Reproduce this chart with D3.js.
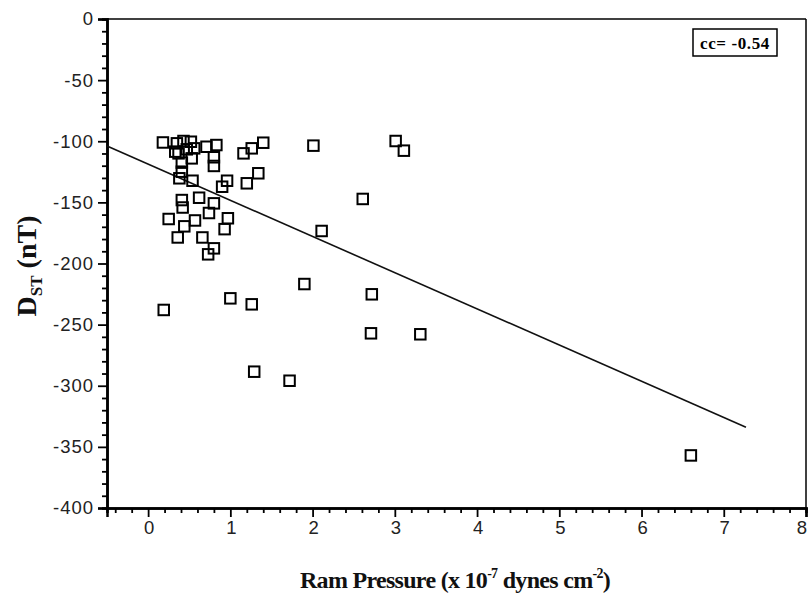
<!DOCTYPE html>
<html>
<head>
<meta charset="utf-8">
<script src="https://cdn.jsdelivr.net/npm/d3@7"></script>
<style>
  html, body { margin: 0; padding: 0; background: #fff; }
  svg { display: block; }
</style>
</head>
<body>
<svg id="chart" width="810" height="595"></svg>
<script>
// Data
const ramPressure = [
  0.18, 0.35, 0.43, 0.52, 0.33, 0.37, 0.47, 0.56, 0.71, 0.83,
  0.53, 0.41, 0.80, 0.80, 0.41, 0.38, 0.54, 0.96, 0.90, 1.16,
  1.26, 1.40, 1.34, 1.20, 0.41, 0.42, 0.62, 0.80, 0.74, 0.25,
  0.57, 0.44, 0.97, 0.93, 0.36, 0.66, 0.80, 0.73, 2.11, 2.61,
  2.01, 3.01, 3.11, 0.19, 1.00, 1.26, 1.90, 2.72, 2.71, 3.31,
  1.29, 1.72, 6.60
];
const dst = [
  -101.0, -101.7, -99.8, -100.4, -108.5, -109.9, -106.6, -105.8, -104.5, -103.1,
  -114.0, -117.5, -113.1, -120.2, -124.9, -130.3, -132.3, -132.3, -137.2, -109.9,
  -105.8, -101.2, -126.2, -134.4, -148.1, -154.2, -146.2, -150.8, -158.7, -163.6,
  -164.8, -169.6, -163.0, -171.9, -178.7, -178.7, -187.6, -192.5, -173.4, -147.2,
  -103.6, -99.8, -107.7, -238.0, -228.5, -233.4, -216.8, -225.2, -257.1, -257.9,
  -288.5, -295.9, -357.0
];
const fitLine = { intercept: -118.7, slope: -29.6, xStart: -0.5, xEnd: 7.27 };
const xTicks = [0, 1, 2, 3, 4, 5, 6, 7, 8];
const yTicks = [0, -50, -100, -150, -200, -250, -300, -350, -400];
const ccLabel = "cc= -0.54";

(function () {
const svg = d3.select("#chart");
const pL = 107, pR = 806, pT = 19, pB = 508;

const x = d3.scaleLinear().domain([-0.5, 8]).range([pL, pR]);
const y = d3.scaleLinear().domain([-400, 0]).range([pB, pT]);

// Frame (top and right)
svg.append("line").attr("x1", pL).attr("x2", pR).attr("y1", pT).attr("y2", pT)
  .attr("stroke", "#000").attr("stroke-width", 1.5);
svg.append("line").attr("x1", pR).attr("x2", pR).attr("y1", pT).attr("y2", pB)
  .attr("stroke", "#000").attr("stroke-width", 1.5);

// Minor ticks
const xMinor = d3.range(-0.4, 8.0001, 0.2).filter(v => Math.abs(v - Math.round(v)) > 1e-6);
const yMinor = d3.range(-390, 0, 10).filter(v => v % 50 !== 0);
const fmt = d => String(d);

svg.append("g").attr("transform", `translate(0,${pB})`)
  .call(d3.axisBottom(x).tickValues(xMinor).tickSize(5).tickFormat(""));
const xMajor = svg.append("g").attr("transform", `translate(0,${pB})`)
  .call(d3.axisBottom(x).tickValues(xTicks).tickSize(9).tickPadding(4).tickFormat(fmt));

svg.append("g").attr("transform", `translate(${pL},0)`)
  .call(d3.axisLeft(y).tickValues(yMinor).tickSize(5).tickFormat(""));
const yMajor = svg.append("g").attr("transform", `translate(${pL},0)`)
  .call(d3.axisLeft(y).tickValues(yTicks).tickSize(9).tickPadding(4).tickFormat(fmt));

svg.selectAll(".domain").attr("stroke", "#000").attr("stroke-width", 2.5);
svg.selectAll(".tick line").attr("stroke", "#000").attr("stroke-width", 1.8);
svg.selectAll("g").attr("font-size", null).attr("font-family", null);
svg.selectAll(".tick text")
  .style("font-family", "'Liberation Sans', Arial, sans-serif")
  .style("font-size", "18.5px")
  .attr("letter-spacing", "1")
  .attr("fill", "#222");
xMajor.selectAll(".tick text").attr("dy", "0.72em").attr("dx", 1);
xMajor.selectAll(".tick text").filter(d => d === 8).attr("dx", -4);

// Regression line
svg.append("line")
  .attr("x1", x(fitLine.xStart))
  .attr("y1", y(fitLine.intercept + fitLine.slope * fitLine.xStart))
  .attr("x2", x(fitLine.xEnd))
  .attr("y2", y(fitLine.intercept + fitLine.slope * fitLine.xEnd))
  .attr("stroke", "#111").attr("stroke-width", 1.6);

// Points
const pts = ramPressure.map((v, i) => ({ x: v, y: dst[i] }));
const s = 10.5;
svg.append("g").selectAll("rect").data(pts).join("rect")
  .attr("x", d => x(d.x) - s / 2)
  .attr("y", d => y(d.y) - s / 2)
  .attr("width", s).attr("height", s)
  .attr("fill", "none").attr("stroke", "#000").attr("stroke-width", 2);

const serif = "'Liberation Serif', 'Times New Roman', serif";

// cc box
const cc = svg.append("g");
cc.append("rect").attr("x", 693).attr("y", 29).attr("width", 84).attr("height", 27)
  .attr("fill", "#fff").attr("stroke", "#000").attr("stroke-width", 1.5);
cc.append("text").attr("x", 735).attr("y", 49).attr("text-anchor", "middle")
  .style("font-family", serif).style("font-weight", "bold").style("font-size", "17px")
  .attr("letter-spacing", "0.6")
  .text(ccLabel);

// Axis titles
const xt = svg.append("text").attr("x", 455).attr("y", 588).attr("text-anchor", "middle")
  .style("font-family", serif).style("font-weight", "bold").style("font-size", "24px")
  .attr("letter-spacing", "-0.7").attr("fill", "#111");
xt.append("tspan").text("Ram Pressure (x 10");
xt.append("tspan").style("font-size", "14px").attr("dy", -10).text("-7");
xt.append("tspan").attr("dy", 10).text(" dynes cm");
xt.append("tspan").style("font-size", "14px").attr("dy", -10).text("-2");
xt.append("tspan").attr("dy", 10).text(")");

const yt = svg.append("text").attr("transform", "translate(36,266) rotate(-90)")
  .attr("text-anchor", "middle")
  .style("font-family", serif).style("font-weight", "bold").style("font-size", "28px")
  .attr("fill", "#111");
yt.append("tspan").text("D");
yt.append("tspan").style("font-size", "17px").attr("dy", 6).text("ST");
yt.append("tspan").attr("dy", -6).text(" (nT)");
})();
</script>
</body>
</html>
